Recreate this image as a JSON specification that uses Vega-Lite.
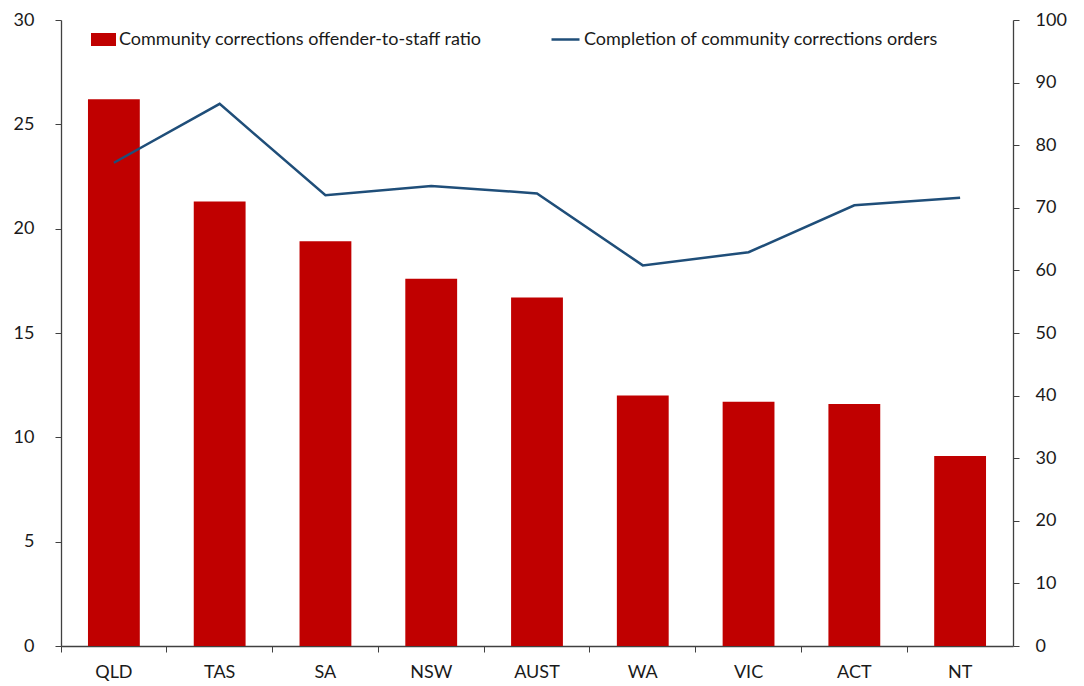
{
  "$schema": "https://vega.github.io/schema/vega-lite/v6.json",
  "autosize": {"type": "none"},
  "padding": {"left": 61, "top": 20, "right": 71, "bottom": 40},
  "width": 952,
  "height": 626,
  "background": "white",
  "data": {
    "values": [
      {"state": "QLD", "ratio": 26.2, "completion": 77.2},
      {"state": "TAS", "ratio": 21.3, "completion": 86.6},
      {"state": "SA", "ratio": 19.4, "completion": 72.0},
      {"state": "NSW", "ratio": 17.6, "completion": 73.5},
      {"state": "AUST", "ratio": 16.7, "completion": 72.3},
      {"state": "WA", "ratio": 12.0, "completion": 60.8},
      {"state": "VIC", "ratio": 11.7, "completion": 62.9},
      {"state": "ACT", "ratio": 11.6, "completion": 70.4},
      {"state": "NT", "ratio": 9.1, "completion": 71.6}
    ]
  },
  "encoding": {
    "x": {
      "field": "state",
      "type": "nominal",
      "sort": null,
      "title": null,
      "scale": {"paddingInner": 0, "paddingOuter": 0},
      "axis": {
        "bandPosition": 0,
        "labelAngle": 0,
        "labelPadding": 11,
        "tickSize": 6,
        "labelOffset": 0
      }
    }
  },
  "layer": [
    {
      "mark": {"type": "bar", "width": {"band": 0.49}},
      "encoding": {
        "y": {
          "field": "ratio",
          "type": "quantitative",
          "title": null,
          "scale": {"domain": [0, 30]},
          "axis": {"orient": "left", "values": [0, 5, 10, 15, 20, 25, 30], "labelPadding": 21, "tickSize": 6}
        },
        "color": {
          "datum": "Community corrections offender-to-staff ratio",
          "scale": {"range": ["#C00000"]},
          "legend": {
            "title": null,
            "orient": "none",
            "legendX": 30,
            "legendY": 7,
            "symbolType": "M-1,-0.52H1V0.52H-1Z",
            "symbolSize": 625,
            "symbolStrokeWidth": 0,
            "labelOffset": 3,
            "labelLimit": 600,
            "padding": 0
          }
        }
      }
    },
    {
      "mark": {"type": "line", "strokeWidth": 2.5},
      "encoding": {
        "y": {
          "field": "completion",
          "type": "quantitative",
          "title": null,
          "scale": {"domain": [0, 100]},
          "axis": {"orient": "right", "values": [0, 10, 20, 30, 40, 50, 60, 70, 80, 90, 100], "labelPadding": 16, "tickSize": 6}
        },
        "stroke": {
          "datum": "Completion of community corrections orders",
          "scale": {"range": ["#1F4E79"]},
          "legend": {
            "title": null,
            "orient": "none",
            "legendX": 489,
            "legendY": 4,
            "symbolType": "stroke",
            "symbolSize": 784,
            "symbolStrokeWidth": 2.5,
            "labelOffset": 3,
            "labelLimit": 600,
            "padding": 0
          }
        }
      }
    }
  ],
  "resolve": {"scale": {"y": "independent"}},
  "config": {
    "font": "Lato",
    "view": {"stroke": null},
    "axis": {
      "grid": false,
      "domainColor": "#404040",
      "tickColor": "#404040",
      "domainWidth": 1.3,
      "labelFont": "Lato",
      "labelFontSize": 18,
      "labelColor": "#1a1a1a"
    },
    "legend": {
      "labelFont": "Lato",
      "labelFontSize": 18,
      "labelColor": "#1a1a1a"
    }
  }
}
